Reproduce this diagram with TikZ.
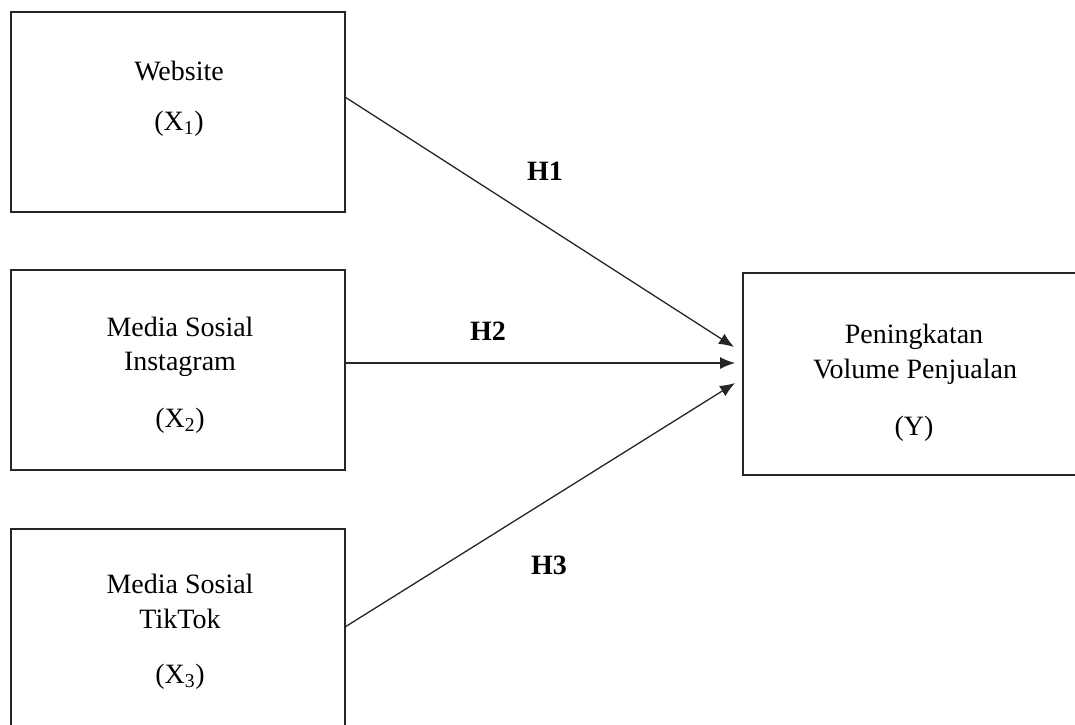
\documentclass[tikz,border=0pt]{standalone}
\usepackage{fontspec}
\setmainfont{Liberation Serif}
\usetikzlibrary{arrows.meta}
\begin{document}
\begin{tikzpicture}[x=1pt,y=-1pt,
  boxnode/.style={draw=black!85,line width=1.5pt,minimum width=334pt,minimum height=200pt,inner sep=0pt,outer sep=0pt},
  txt/.style={anchor=base,inner sep=0pt,font=\fontsize{28}{34}\selectfont},
  hlab/.style={anchor=base,inner sep=0pt,font=\fontsize{28}{34}\selectfont\bfseries},
  conn/.style={line width=1.3pt,draw=black!85,-{Latex[length=15pt,width=12pt]}}]
\useasboundingbox (0,0) rectangle (1075,724);
\clip (0,0) rectangle (1075,724);
\fill[white] (0,0) rectangle (1075,724);
% boxes
\node[boxnode] (b1) at (178,112) {};
\node[boxnode] (b2) at (178,370) {};
\node[boxnode] (b3) at (178,629) {};
\node[boxnode,minimum height=202pt] (y) at (910,374) {};
% texts
\node[txt] (t1a) at (179,80) {Website};
\node[txt] (t1b) at (179,130) {(X\textsubscript{1})};
\node[txt] (t2a) at (180,336) {Media Sosial};
\node[txt] (t2b) at (180,370) {Instagram};
\node[txt] (t2c) at (180,427) {(X\textsubscript{2})};
\node[txt] (t3a) at (180,593) {Media Sosial};
\node[txt] (t3b) at (180,628) {TikTok};
\node[txt] (t3c) at (180,683) {(X\textsubscript{3})};
\node[txt] (ya) at (914,343) {Peningkatan};
\node[txt] (yb) at (915,378) {Volume Penjualan};
\node[txt] (yc) at (914,435) {(Y)};
% hypothesis labels
\node[hlab] (h1) at (545,180) {H1};
\node[hlab] (h2) at (488,340) {H2};
\node[hlab] (h3) at (549,574) {H3};
% connector endpoints
\coordinate (s1) at (345,97);
\coordinate (e1) at (734,347);
\coordinate (s2) at (345,363);
\coordinate (e2) at (735,363);
\coordinate (s3) at (345,627);
\coordinate (e3) at (735,383);
\draw[conn] (s1) -- (e1);
\draw[conn] (s2) -- (e2);
\draw[conn] (s3) -- (e3);
\end{tikzpicture}
\end{document}
